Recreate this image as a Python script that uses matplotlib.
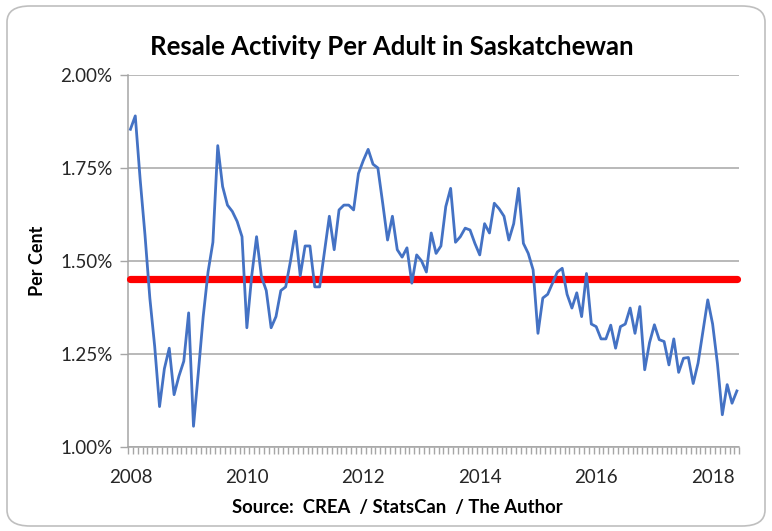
import matplotlib
matplotlib.use("Agg")
import matplotlib.pyplot as plt
import numpy as np
import pandas as pd
from matplotlib.patches import FancyBboxPatch
from matplotlib.ticker import FixedLocator, FuncFormatter

# ── data (% of adults, monthly from Jan 2008) ───────────────────────────────

months = pd.period_range("2008-01", periods=126, freq="M")

resale_pct = [
    1.854, 1.890, 1.720, 1.570, 1.400, 1.270, 1.108, 1.210, 1.265, 1.140,
    1.190, 1.230, 1.360, 1.055, 1.200, 1.350, 1.470, 1.550, 1.810, 1.700,
    1.650, 1.633, 1.606, 1.565, 1.320, 1.460, 1.565, 1.458, 1.420, 1.320,
    1.350, 1.420, 1.430, 1.500, 1.580, 1.460, 1.540, 1.540, 1.430, 1.430,
    1.525, 1.620, 1.530, 1.637, 1.650, 1.650, 1.637, 1.735, 1.770, 1.800,
    1.760, 1.750, 1.655, 1.556, 1.620, 1.530, 1.510, 1.535, 1.440, 1.516,
    1.500, 1.470, 1.575, 1.520, 1.540, 1.646, 1.695, 1.550, 1.565, 1.588,
    1.583, 1.547, 1.516, 1.600, 1.575, 1.655, 1.640, 1.620, 1.556, 1.600,
    1.695, 1.547, 1.520, 1.476, 1.305, 1.400, 1.410, 1.440, 1.470, 1.480,
    1.410, 1.373, 1.414, 1.350, 1.466, 1.330, 1.323, 1.290, 1.290, 1.327,
    1.265, 1.323, 1.330, 1.373, 1.305, 1.377, 1.207, 1.280, 1.328, 1.288,
    1.283, 1.220, 1.290, 1.200, 1.238, 1.240, 1.170, 1.225, 1.310, 1.395,
    1.330, 1.223, 1.086, 1.167, 1.117, 1.150,
]

long_run_avg = 1.45

y_ticks = [1.00, 1.25, 1.50, 1.75, 2.00]

TITLE = "Resale Activity Per Adult in Saskatchewan"
SOURCE = "Source:  CREA  / StatsCan  / The Author"

FONT = ["Lato", "DejaVu Sans"]
GRID_GREY = "#a6a6a6"
TEXT_COL = "#262626"

# ── figure ─────────────────────────────────────────────────────────────────

fig = plt.figure(figsize=(7.72, 5.31), dpi=100)
plt.rcParams["font.family"] = FONT

# rounded chart-area border
border = FancyBboxPatch((7 / 772, 5 / 531), 758 / 772, 520 / 531,
                        boxstyle="round,pad=0,rounding_size=0.03",
                        transform=fig.transFigure, facecolor="none",
                        edgecolor="#bfbfbf", linewidth=1.2, zorder=-1)
fig.patches.append(border)

ax = fig.add_axes([128 / 772, 84.3 / 531, 611.3 / 772, 371.7 / 531])
ax.set_facecolor("none")

x = np.arange(len(months))

ax.plot(x, [long_run_avg] * len(x), color="#ff0000", linewidth=5.2,
        solid_capstyle="round", zorder=3, clip_on=False)
ax.plot(x, resale_pct, color="#4472c4", linewidth=2.0,
        solid_joinstyle="round", zorder=4)

ax.set_xlim(-0.5, len(x) - 0.5)
ax.set_ylim(y_ticks[0], y_ticks[-1])

# y axis
ax.set_yticks(y_ticks)
ax.yaxis.set_major_formatter(FuncFormatter(lambda v, _: f"{v:.2f}%"))
ax.grid(axis="y", color=GRID_GREY, linewidth=1.1)
ax.set_axisbelow(True)
ax.tick_params(axis="y", direction="out", length=6, width=1,
               color=GRID_GREY, labelsize=13.5, labelcolor=TEXT_COL, pad=5)

# x axis: one tick per month, labels on January of even years
label_idx = [i for i, m in enumerate(months) if m.month == 1 and m.year % 2 == 0]
ax.xaxis.set_minor_locator(FixedLocator(np.arange(-0.5, len(x), 1.0)))
ax.set_xticks(label_idx)
ax.set_xticklabels([str(months[i].year) for i in label_idx])
ax.tick_params(axis="x", which="minor", direction="out", length=5, width=1,
               color=GRID_GREY)
ax.tick_params(axis="x", which="major", length=0, labelsize=13.5,
               labelcolor=TEXT_COL, pad=16)

for side in ("top", "right"):
    ax.spines[side].set_visible(False)
for side in ("left", "bottom"):
    ax.spines[side].set_color(GRID_GREY)
    ax.spines[side].set_linewidth(1.1)

ax.set_ylabel("Per Cent", fontsize=13, fontweight="bold", color="black")
ax.yaxis.set_label_coords(-(128 - 46) / 611.3, 0.5)

fig.text(392 / 772, 1 - 47 / 531, TITLE, ha="center", va="center",
         fontsize=18.5, fontweight="bold", color="black")
fig.text(397 / 772, 1 - 508 / 531, SOURCE, ha="center", va="center",
         fontsize=13.3, fontweight="bold", color="black")

fig.savefig("out.png", dpi=100)
